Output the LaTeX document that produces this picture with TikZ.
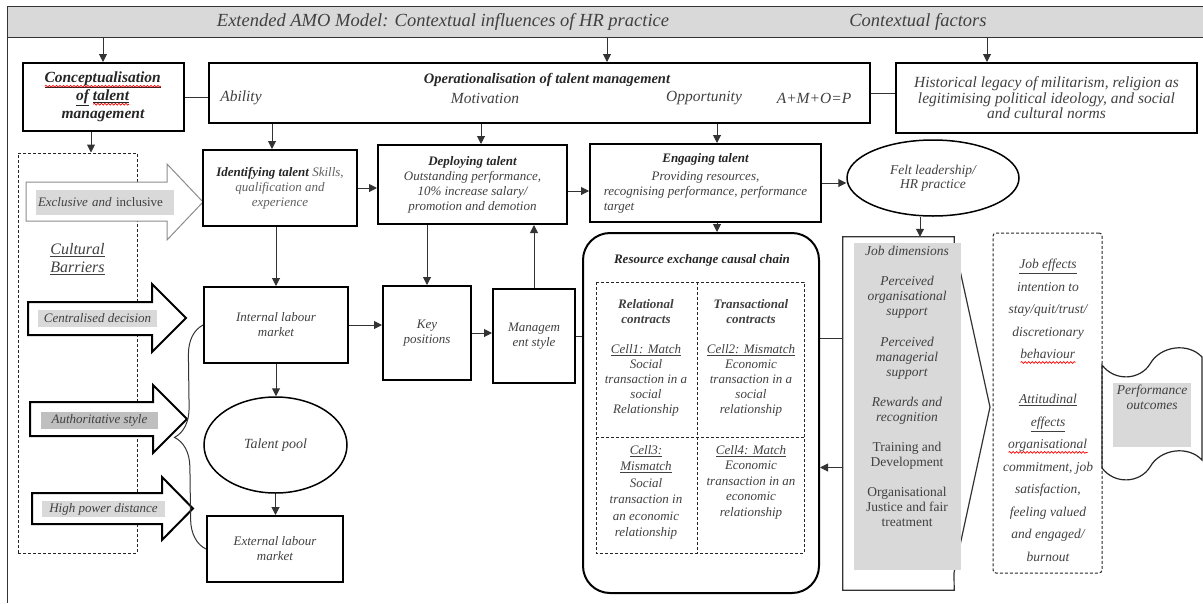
\documentclass[tikz,border=0pt]{standalone}
\usepackage{fontspec}
\setmainfont{Liberation Serif}
\usetikzlibrary{arrows.meta,shapes.geometric,decorations.pathreplacing,decorations.pathmorphing}

\definecolor{bandgray}{HTML}{D9D9D9}
\definecolor{tabgray}{HTML}{BFBFBF}
\definecolor{inkgray}{HTML}{404040}
\definecolor{softgray}{HTML}{5F5F5F}

\newsavebox{\spellbox}
\newlength{\spellwd}
\newcommand{\spell}[1]{\sbox{\spellbox}{#1}\setlength{\spellwd}{\wd\spellbox}\rlap{\usebox{\spellbox}}\tikz[baseline=0pt]\draw[red, line width=0.7pt, decorate, decoration={snake, amplitude=0.9pt, segment length=3.5pt}] (0pt,-3.5pt) -- (\the\spellwd,-3.5pt);}
\newcommand{\fsz}[2]{\fontsize{#1}{#2}\selectfont}

\begin{document}
\begin{tikzpicture}[x=1pt, y=-1pt,
    every node/.style={text=inkgray, font=\itshape\fsz{13}{15}, inner sep=1pt, align=center},
    box/.style={draw=black, line width=2pt, inner sep=0pt},
    oval/.style={ellipse, draw=black, line width=1.5pt, inner sep=0pt},
    conn/.style={draw=black!80, line width=1pt},
    arr/.style={conn, -{Triangle[length=8pt, width=8pt]}},
    tag/.style={fill=bandgray, inner sep=0pt},
    thinblock/.style={draw=black!45, line width=1pt, fill=white},
    boldblock/.style={draw=black, line width=2pt, fill=white},
    dashbox/.style={draw=black!85, line width=1pt, dash pattern=on 3pt off 2pt},
    title/.style={font=\bfseries\itshape\fsz{13}{15}, text=black!85}]
    %\draw[step=50,help lines] (0,0) grid (1203,603);
    \useasboundingbox (0,0) rectangle (1203,603);

    \node (hdr) [fill=bandgray, minimum width=1195pt, minimum height=30pt, inner sep=0pt] at (605.5,22) {};
    \draw[conn] (hdr.north east) -- (hdr.north west) -- (hdr.north west |- 0,603);
    \draw[conn] (hdr.south west) -- (hdr.south east);
    \node (hdrmodel) [font=\itshape\fsz{18.5}{20}] at (443,22) {Extended AMO Model: Contextual influences of HR practice};
    \node (hdrcontext) [font=\itshape\fsz{18.5}{20}] at (918,22) {Contextual factors};

    \node (conc) [box, minimum width=161pt, minimum height=68pt, font=\bfseries\itshape\fsz{15.5}{18}, text=black!85] at (103,97) {\spell{\underline{Conceptualisation}}\\\underline{of} \spell{\underline{talent}}\\management};
    \node (oper) [box, minimum width=661pt, minimum height=60pt] at (539.5,93) {};
    \node (opertitle) [title, font=\bfseries\itshape\fsz{14.5}{16}] at (547,80) {Operationalisation of talent management};
    \node (ability) [font=\itshape\fsz{15.5}{17}] at (241,98) {Ability};
    \node (motivation) [font=\itshape\fsz{15.5}{17}] at (485,98) {Motivation};
    \node (opportunity) [font=\itshape\fsz{15.5}{17}] at (704,98) {Opportunity};
    \node (amop) [font=\itshape\fsz{15.5}{17}] at (814,98) {A+M+O=P};
    \node (legacy) [box, minimum width=301pt, minimum height=70pt, font=\itshape\fsz{15.5}{15.5}] at (1046.5,98) {Historical legacy of militarism, religion as\\legitimising political ideology, and social\\and cultural norms};

    \draw[conn] (conc.east) -- (conc.east -| oper.west);
    \draw[conn] (oper.east) -- (oper.east -| legacy.west);
    \draw[arr] (conc.north |- hdr.south) -- (conc.north);
    \draw[arr] ([xshift=67.5pt]oper.north |- hdr.south) -- ([xshift=67.5pt]oper.north);
    \draw[arr] ([xshift=-59.5pt]legacy.north |- hdr.south) -- ([xshift=-59.5pt]legacy.north);

    \node (barrier) [dashbox, minimum width=119pt, minimum height=400pt] at (77.5,353) {};
    \node (barriertxt) [font=\itshape\fsz{16}{18}] at (77.5,259) {\underline{Cultural}\\\underline{Barriers}};
    \draw[arr] ([xshift=13.5pt]barrier.north |- conc.south) -- ([xshift=13.5pt]barrier.north);

    \foreach \xl/\xb/\xt/\yt/\yb/\ht/\hb/\look in {26/167/203/182/221/164/240/thinblock,
        28/152/186/302/335/284/352/boldblock, 30/153/187/402/436/385/453/boldblock,
        32/162/193/493/524/477/540/boldblock}
        \draw[\look] (\xl,\yt) -- (\xb,\yt) -- (\xb,\ht) -- (\xt,{(\ht+\hb)/2}) -- (\xb,\hb) -- (\xb,\yb) -- (\xl,\yb) -- cycle;
    \node (exclusive) [tag, minimum width=138pt, minimum height=25pt, text width=134pt, align=left] at (105,202.5) {Exclusive and \textup{inclusive}};
    \node (central) [tag, minimum width=119pt, minimum height=17pt] at (97.5,318.5) {Centralised decision};
    \node (authority) [tag, fill=tabgray, minimum width=117pt, minimum height=17pt] at (99.5,420.5) {Authoritative style};
    \node (powerdist) [tag, minimum width=123pt, minimum height=16pt] at (103.5,509) {High power distance};

    \node (identify) [box, minimum width=154pt, minimum height=76pt, text=softgray] at (280,188) {\textbf{\textcolor{black!85}{Identifying talent}} Skills,\\qualification and\\experience};
    \node (deploy) [box, minimum width=189pt, minimum height=79pt] at (472.5,184.5) {\textbf{\textcolor{black!85}{Deploying talent}}\\Outstanding performance,\\10\% increase salary/\\promotion and demotion};
    \node (engage) [box, minimum width=231pt, minimum height=78pt] at (705.5,183) {\textbf{\textcolor{black!85}{Engaging talent}}\\[3pt]Providing resources,\\recognising performance, performance\\\rlap{target}\hphantom{recognising performance, performance}};
    \node (felt) [oval, minimum width=172pt, minimum height=76pt, font=\itshape\fsz{13.5}{14}] at (933,178) {Felt leadership/\\HR practice};

    \draw[arr] ([xshift=-8pt]identify.north |- oper.south) -- ([xshift=-8pt]identify.north);
    \draw[arr] ([xshift=8.5pt]deploy.north |- oper.south) -- ([xshift=8.5pt]deploy.north);
    \draw[arr] ([xshift=11.5pt]engage.north |- oper.south) -- ([xshift=11.5pt]engage.north);
    \draw[arr] (identify.east) -- (identify.east -| deploy.west);
    \draw[arr] ([yshift=-6.5pt]deploy.east) -- ([yshift=-6.5pt]deploy.east -| engage.west);
    \draw[arr] (engage.east) -- (engage.east -| felt.west);

    \node (internal) [box, minimum width=144pt, minimum height=76pt] at (276,325) {Internal labour\\market};
    \node (keypos) [box, minimum width=88pt, minimum height=94pt] at (427,333) {Key\\positions};
    \node (mgmt) [box, minimum width=82pt, minimum height=94pt] at (534,336) {Managem\\ent style};
    \node (pool) [oval, minimum width=143pt, minimum height=96pt, font=\itshape\fsz{14}{15}] at (275.5,445) {Talent pool};
    \node (external) [box, minimum width=136pt, minimum height=66pt] at (275,549) {External labour\\market};

    \draw[arr] (identify.south -| internal.north) -- (internal.north);
    \draw[arr] (deploy.south -| keypos.north) -- (keypos.north);
    \draw[arr] (internal.east) -- (internal.east -| keypos.west);
    \draw[arr] (keypos.east) -- (keypos.east -| mgmt.west);
    \draw[arr] (mgmt.north) -- (mgmt.north |- deploy.south);
    \draw[arr] (internal.south) -- (internal.south |- pool.north);
    \draw[arr] (pool.south) -- (pool.south |- external.north);
    \draw[conn, decorate, decoration={brace, amplitude=30pt}] (external.west) -- (internal.west);

    \node (chain) [draw=black, line width=2pt, rounded corners=27pt, minimum width=236pt, minimum height=360pt] at (701,413) {};
    \node (chaintitle) [title] at (702,260) {Resource exchange causal chain};
    \draw[dashbox] (596,282) rectangle (804,553);
    \draw[dashbox] (697,282) -- (697,553);
    \draw[dashbox] (596,437) -- (804,437);
    \node (cell1) at (646,357.5) {\textbf{Relational}\\\textbf{contracts}\\[15pt]\underline{Cell1: Match}\\Social\\transaction in a\\social\\Relationship};
    \node (cell2) at (751,357.5) {\textbf{Transactional}\\\textbf{contracts}\\[15pt]\underline{Cell2: Mismatch}\\Economic\\transaction in a\\social\\relationship};
    \node (cell3) [font=\itshape\fsz{13}{16.5}] at (646,492.5) {\underline{Cell3:}\\\underline{Mismatch}\\Social\\transaction in\\an economic\\relationship};
    \node (cell4) [font=\itshape\fsz{13}{15.5}] at (751,482) {\underline{Cell4: Match}\\Economic\\transaction in an\\economic\\relationship};

    \draw[arr] ([xshift=11.5pt]engage.south) -- ([xshift=11.5pt]engage.south |- chain.north);
    \draw[conn] (mgmt.east) -- (mgmt.east -| chain.west);

    \node (dimframe) [minimum width=111pt, minimum height=353pt, inner sep=0pt] at (898.5,413.5) {};
    \draw[conn, line width=1.2pt] (dimframe.north west) -- (dimframe.north east) -- ++(0,7) -- (990,407) -- (954,573) -- (dimframe.south east) -- (dimframe.south west) -- cycle;
    \node (dims) [tag, minimum width=107pt, minimum height=327pt] at (907.5,406.5) {};
    \node (dimstxt) [font=\itshape\fsz{13.5}{15.05}] at (907,386.5) {Job dimensions\\[15pt]Perceived\\organisational\\support\\[15pt]Perceived\\managerial\\support\\[15pt]Rewards and\\recognition\\[15pt]\textup{Training and}\\\textup{Development}\\[15pt]\textup{Organisational}\\\textup{Justice and fair}\\\textup{treatment}};
    \draw[arr] ([xshift=-13pt]felt.south) -- ([xshift=-13pt]felt.south |- dimframe.north);
    \draw[conn] ([yshift=75pt]chain.east) -- ([yshift=75pt]chain.east -| dimframe.west);
    \draw[arr] ([yshift=-54pt]dimframe.west) -- ([yshift=-54pt]dimframe.west -| chain.east);

    \node (effects) [dashbox, rounded corners=3pt, minimum width=109pt, minimum height=340pt] at (1047.5,403) {};
    \node (effectstxt) [font=\itshape\fsz{13.5}{22.5}] at (1048,410.5) {\underline{Job effects}\\intention to\\stay/quit/trust/\\discretionary\\\spell{behaviour}\\[22.5pt]\underline{Attitudinal}\\\underline{effects}\\\spell{organisational}\\commitment, job\\satisfaction,\\feeling valued\\and engaged/\\burnout};

    \draw[line width=1.2pt, black!85] (1102,365) .. controls (1115,382) and (1140,380) .. (1150,364) .. controls (1160,346) and (1188,342) .. (1202,357) -- (1202,460) .. controls (1188,445) and (1160,449) .. (1150,467) .. controls (1140,483) and (1115,485) .. (1102,468) -- cycle;
    \node (outcome) [tag, minimum width=78pt, minimum height=64pt] at (1152,415) {};
    \node (outcometxt) [font=\itshape\fsz{13.5}{15}] at (1152,397.5) {Performance\\outcomes};

\end{tikzpicture}
\end{document}
